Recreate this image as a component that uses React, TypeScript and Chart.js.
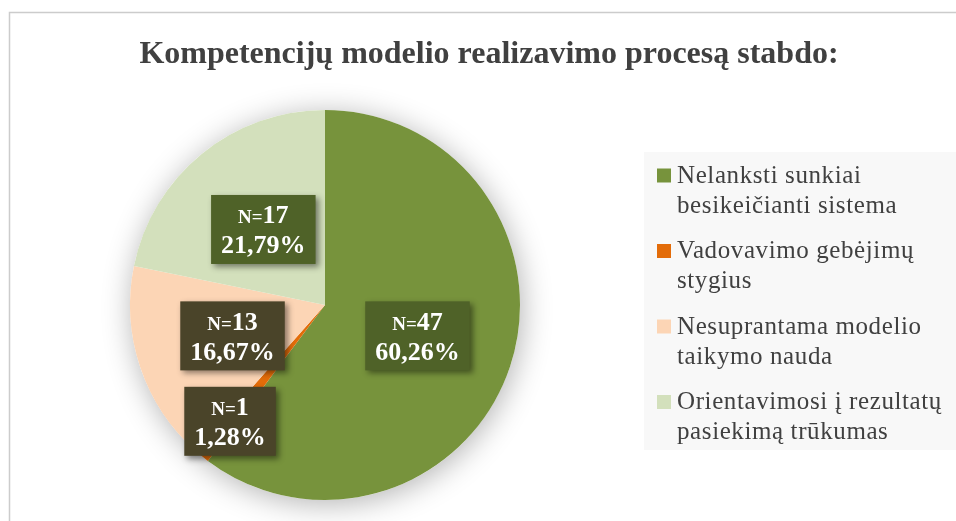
import React, { useEffect, useRef } from "react";
import { Chart, registerables } from "chart.js";

Chart.register(...registerables);

const titleText = "Kompetencijų modelio realizavimo procesą stabdo:";
const categories = [
  "Nelanksti sunkiai besikeičianti sistema",
  "Vadovavimo gebėjimų stygius",
  "Nesuprantama modelio taikymo nauda",
  "Orientavimosi į rezultatų pasiekimą trūkumas",
];
const legendLines = [
  ["Nelanksti sunkiai", "besikeičianti sistema"],
  ["Vadovavimo gebėjimų", "stygius"],
  ["Nesuprantama modelio", "taikymo nauda"],
  ["Orientavimosi į rezultatų", "pasiekimą trūkumas"],
];
const counts = [47, 1, 13, 17];
const sliceColors = ["#77933C", "#E36C09", "#FCD5B5", "#D3E0BC"];
const labelBoxColors = ["#4F6228", "#4A4429", "#4A4429", "#4F6228"];

const SERIF = '"Liberation Serif", "Times New Roman", serif';

const total = counts.reduce((a, b) => a + b, 0);
const percentLabels = counts.map((c) => ((c / total) * 100).toFixed(2).replace(".", ",") + "%");

const decorPlugin = {
  id: "decor",
  beforeDraw(chart: any) {
    const ctx = chart.ctx;
    ctx.save();
    ctx.fillStyle = "#ffffff";
    ctx.fillRect(0, 0, chart.width, chart.height);
    // frame
    ctx.strokeStyle = "#CCCCCC";
    ctx.lineWidth = 1.5;
    ctx.beginPath();
    ctx.moveTo(9.5, chart.height);
    ctx.lineTo(9.5, 12.5);
    ctx.lineTo(chart.width, 12.5);
    ctx.stroke();
    // title
    ctx.fillStyle = "#404040";
    ctx.font = `bold 32px ${SERIF}`;
    ctx.textAlign = "center";
    ctx.textBaseline = "alphabetic";
    ctx.fillText(titleText, 489, 63);
    // legend
    ctx.fillStyle = "#F8F8F8";
    ctx.fillRect(644, 152, chart.width - 644, 298);
    ctx.font = `25px ${SERIF}`;
    ctx.textAlign = "left";
    try { (ctx as any).letterSpacing = "0.6px"; } catch (e) {}
    legendLines.forEach((lines, i) => {
      const base = 182.5 + i * 75.5;
      ctx.fillStyle = sliceColors[i];
      ctx.fillRect(657, base - 14, 14, 14);
      ctx.fillStyle = "#404040";
      lines.forEach((ln, j) => ctx.fillText(ln, 677, base + j * 30));
    });
    try { (ctx as any).letterSpacing = "0px"; } catch (e) {}
    ctx.restore();
  },
  beforeDatasetsDraw(chart: any) {
    const meta = chart.getDatasetMeta(0);
    const arc = meta.data[0];
    if (!arc) return;
    const ctx = chart.ctx;
    ctx.save();
    ctx.shadowColor = "rgba(0,0,0,0.3)";
    ctx.shadowBlur = 30;
    ctx.shadowOffsetX = 2;
    ctx.shadowOffsetY = 4;
    ctx.fillStyle = "#ffffff";
    ctx.beginPath();
    ctx.arc(arc.x, arc.y, arc.outerRadius, 0, Math.PI * 2);
    ctx.fill();
    ctx.restore();
  },
  afterDatasetsDraw(chart: any) {
    const meta = chart.getDatasetMeta(0);
    const ctx = chart.ctx;
    ctx.save();
    meta.data.forEach((arc: any, i: number) => {
      const mid = (arc.startAngle + arc.endAngle) / 2;
      const share = counts[i] / total;
      const f = share < 0.03 ? 0.77 : 0.5;
      const cx = arc.x + Math.cos(mid) * arc.outerRadius * f;
      const cy = arc.y + Math.sin(mid) * arc.outerRadius * f;
      const numStr = String(counts[i]);
      const pct = percentLabels[i];
      ctx.font = `bold 19px ${SERIF}`;
      const wN = ctx.measureText("N=").width;
      ctx.font = `bold 26px ${SERIF}`;
      const wNum = ctx.measureText(numStr).width;
      const wPct = ctx.measureText(pct).width;
      const w1 = wN + wNum;
      const bw = Math.max(w1, wPct) + 20;
      const bh = 69;
      const bx = cx - bw / 2;
      const by = cy - bh / 2;
      ctx.save();
      ctx.shadowColor = "rgba(0,0,0,0.45)";
      ctx.shadowBlur = 6;
      ctx.shadowOffsetX = 3;
      ctx.shadowOffsetY = 3;
      ctx.fillStyle = labelBoxColors[i];
      ctx.fillRect(bx, by, bw, bh);
      ctx.restore();
      ctx.fillStyle = "#ffffff";
      ctx.textAlign = "left";
      ctx.textBaseline = "alphabetic";
      const x1 = cx - w1 / 2;
      ctx.font = `bold 19px ${SERIF}`;
      ctx.fillText("N=", x1, cy - 6);
      ctx.font = `bold 26px ${SERIF}`;
      ctx.fillText(numStr, x1 + wN, cy - 6);
      ctx.textAlign = "center";
      ctx.fillText(pct, cx, cy + 24);
    });
    ctx.restore();
  },
};

export default function App() {
  const ref = useRef<HTMLCanvasElement>(null);
  useEffect(() => {
    if (!ref.current) return;
    const chart = new Chart(ref.current, {
      type: "pie",
      data: {
        labels: categories,
        datasets: [
          {
            data: counts,
            backgroundColor: sliceColors,
            borderWidth: 0,
          },
        ],
      },
      options: {
        responsive: false,
        animation: false,
        layout: { padding: { left: 130, right: 436, top: 110, bottom: 21 } },
        plugins: {
          legend: { display: false },
          title: { display: false },
          tooltip: { enabled: false },
        },
      },
      plugins: [decorPlugin],
    });
    return () => chart.destroy();
  }, []);
  return (
    <div style={{ position: "absolute", left: 0, top: 0, width: 956, height: 521 }}>
      <canvas ref={ref} width={956} height={521} style={{ display: "block" }} />
    </div>
  );
}
